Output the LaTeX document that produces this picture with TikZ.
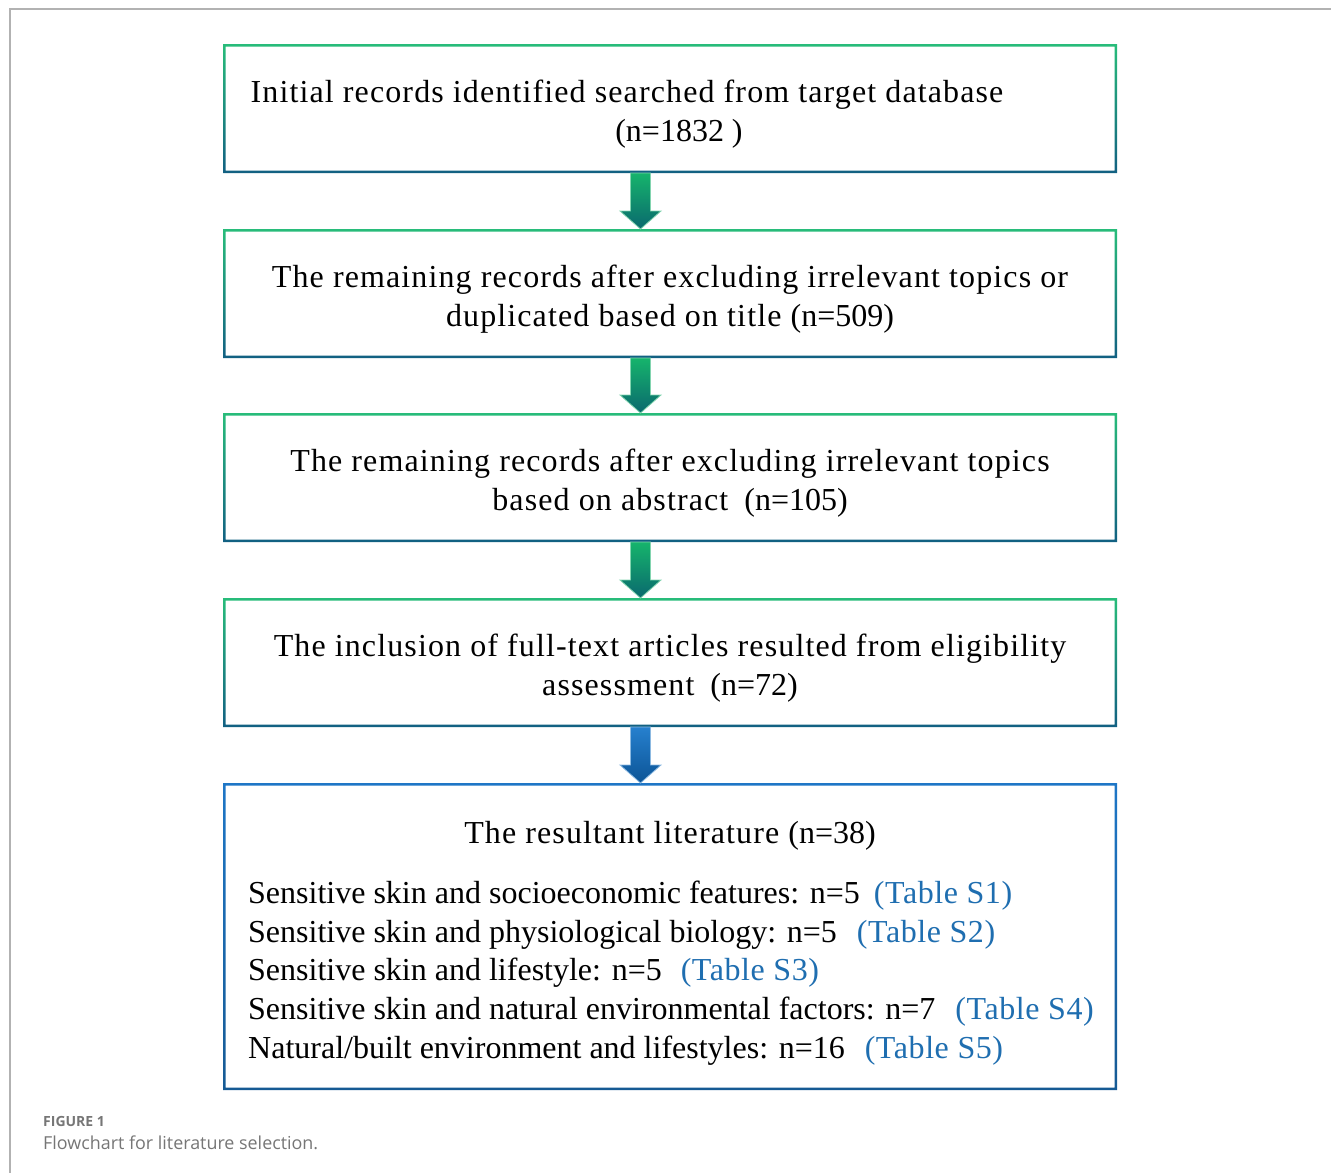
\documentclass[tikz,border=0pt]{standalone}
\usepackage{fontspec}
\setmainfont{Liberation Serif}
\newfontfamily\spaced[LetterSpace=3.5]{Liberation Serif}
\newfontfamily\linkfont[LetterSpace=1.8]{Liberation Serif}
\newfontfamily\capfont{Open Sans}
\usetikzlibrary{calc}
\usetikzlibrary{shadings}

\definecolor{boxtop}{RGB}{40,188,122}
\definecolor{boxbot}{RGB}{18,96,130}
\definecolor{arrtop}{RGB}{22,180,108}
\definecolor{arrbot}{RGB}{10,105,110}
\definecolor{arredge}{RGB}{130,212,175}
\definecolor{bluetop}{RGB}{30,118,198}
\definecolor{bluebot}{RGB}{22,90,148}
\definecolor{barrtop}{RGB}{38,128,206}
\definecolor{barrbot}{RGB}{12,84,150}
\definecolor{barredge}{RGB}{140,185,225}
\definecolor{tablink}{RGB}{31,110,176}
\definecolor{framegray}{RGB}{178,178,178}
\definecolor{capgray}{RGB}{118,118,118}

% frame of a box, shaded from top to bottom
\newcommand{\gradframe}[3]{%
  \shade[top color=#2, bottom color=#3, even odd rule]
    (#1.south west) rectangle (#1.north east)
    ([shift={(2.5,-2.5)}]#1.south west) rectangle ([shift={(-2.5,2.5)}]#1.north east);}

% fat arrow from one box down to the next
\newcommand{\fatarrow}[5]{%
  \shade[top color=#3, bottom color=#4, draw=#5, line width=0.8]
    ($(#1.south)+(-39.5,0)$) -- ($(#1.south)+(-19.5,0)$)
    -- ($(#2.north)+(-19.5,-18)$) -- ($(#2.north)+(-9,-18)$)
    -- ($(#2.north)+(-29.5,0)$)
    -- ($(#2.north)+(-50,-18)$) -- ($(#2.north)+(-39.5,-18)$) -- cycle;}

\newcommand{\lift}{\rule{0pt}{33pt}}
\newcommand{\tabref}[1]{\textcolor{tablink}{\linkfont(Table #1)}}

\begin{document}
\begin{tikzpicture}[x=1pt, y=-1pt,
  stepbox/.style={minimum width=894, minimum height=129, outer sep=0, inner sep=0,
    align=center, font=\fontsize{32}{39}\selectfont},
  resbox/.style={minimum width=894, minimum height=307, outer sep=0, inner sep=0}]
\useasboundingbox (0,0) rectangle (1331,1173);

\draw[framegray, line width=2] (1331,9) -- (10,9) -- (10,1173);

\node[stepbox] (init) at (670,108.5) {\lift\spaced Initial records identified searched from target database\hspace*{86pt}\\ \hspace*{18pt}(n=1832 )};
\node[stepbox] (title) at (670,293.5) {\lift\spaced The remaining records after excluding irrelevant topics or\\ \spaced duplicated based on title {\rmfamily(n=509)}};
\node[stepbox] (abstr) at (670,477.5) {\lift\spaced The remaining records after excluding irrelevant topics\\ \spaced based on abstract\hspace{16pt}{\rmfamily(n=105)}};
\node[stepbox] (full) at (670,662.5) {\lift\spaced The inclusion of full-text articles resulted from eligibility\\ \spaced assessment\hspace{16pt}{\rmfamily(n=72)}};
\node[resbox] (result) at (670,936.5) {};

\gradframe{init}{boxtop}{boxbot}
\gradframe{title}{boxtop}{boxbot}
\gradframe{abstr}{boxtop}{boxbot}
\gradframe{full}{boxtop}{boxbot}
\gradframe{result}{bluetop}{bluebot}

\node[font=\fontsize{32}{39}\selectfont] (restitle) at (670,836) {\spaced The resultant literature {\rmfamily(n=38)}};
\node[anchor=west, align=left, inner sep=0, font=\fontsize{32}{38.8}\selectfont] (reslist) at (248,973)
  {Sensitive skin and socioeconomic features: n=5\hspace{14pt}\tabref{S1}\\
   Sensitive skin and physiological biology: n=5\hspace{20pt}\tabref{S2}\\
   Sensitive skin and lifestyle: n=5\hspace{19pt}\tabref{S3}\\
   Sensitive skin and natural environmental factors: n=7\hspace{20pt}\tabref{S4}\\
   Natural/built environment and lifestyles: n=16\hspace{20pt}\tabref{S5}};

\fatarrow{init}{title}{arrtop}{arrbot}{arredge}
\fatarrow{title}{abstr}{arrtop}{arrbot}{arredge}
\fatarrow{abstr}{full}{arrtop}{arrbot}{arredge}
\fatarrow{full}{result}{barrtop}{barrbot}{barredge}

\node[anchor=west, inner sep=0, text=capgray, font=\capfont\bfseries\fontsize{14}{16}\selectfont] (figno) at (43,1121) {FIGURE 1};
\node[anchor=west, inner sep=0, text=capgray, font=\capfont\fontsize{17.9}{20}\selectfont] (caption) at (43,1143) {Flowchart for literature selection.};

\end{tikzpicture}
\end{document}
